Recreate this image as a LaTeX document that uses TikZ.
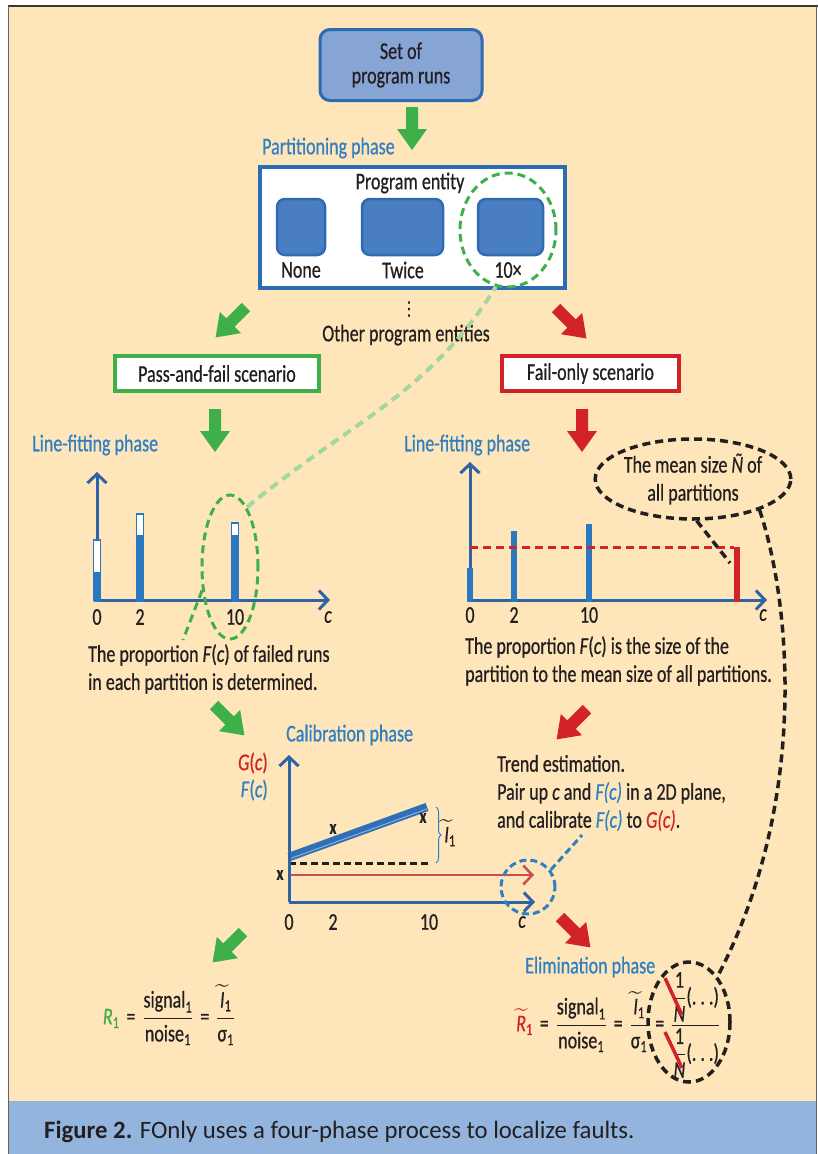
\documentclass[tikz,border=0pt]{standalone}
\usepackage{amsmath}
\usepackage{fontspec}
\setmainfont{Carlito}[FakeStretch=0.75,FakeBold=0.6]
\newfontfamily\capfont{Carlito}[FakeStretch=0.99]
\newfontfamily\dejavu{DejaVu Sans}
\usetikzlibrary{arrows.meta,decorations.pathreplacing,shapes.geometric}
\definecolor{cream}{HTML}{FEE5BA}
\definecolor{capblue}{HTML}{93B5DD}
\definecolor{tblue}{HTML}{2F80C3}
\definecolor{axblue}{HTML}{2E63A6}
\definecolor{barblue}{HTML}{2A78C0}
\definecolor{boxfill}{HTML}{4A7EC2}
\definecolor{boxedge}{HTML}{2D6BB3}
\definecolor{topfill}{HTML}{86A4D4}
\definecolor{pfgreen}{HTML}{3FAF4A}
\definecolor{lgreen}{HTML}{A3D6A0}
\definecolor{fored}{HTML}{D2232A}
\definecolor{calred}{HTML}{C8504E}
\definecolor{ink}{HTML}{231F20}
\definecolor{calblue}{HTML}{2F6FB8}
\begin{document}
\begin{tikzpicture}[x=1pt,y=-1pt,
  txt/.style={font=\fontsize{24}{28}\selectfont, text=ink, inner sep=0pt},
  bluetxt/.style={txt, text=tblue},
  axisline/.style={draw=axblue, line width=3pt, -{Straight Barb[length=9pt,width=19pt]}},
  smallbox/.style={draw=boxedge, line width=2.5pt, fill=boxfill, rounded corners=8pt, minimum height=56, inner sep=0pt},
  scenbox/.style={txt, line width=3.5pt, fill=white, minimum width=#1, minimum height=35},
  dashgreen/.style={draw=pfgreen, line width=3pt, dash pattern=on 8pt off 5pt},
  dashblack/.style={draw=ink, line width=3.5pt, dash pattern=on 8pt off 5pt},
  xmark/.style={txt, font=\fontsize{20}{20}\selectfont\bfseries},
  fatarrow/.pic={\fill[#1] (-6,0) -- (6,0) -- (6,22) -- (15,22) -- (0,43) -- (-15,22) -- (-6,22) -- cycle;}
]
% frame
\useasboundingbox (0,0) rectangle (818,1154);
\fill[white] (0,0) rectangle (818,1154);
\fill[cream] (8,6) rectangle (817,1101);
\fill[capblue] (8,1101) rectangle (817,1154);
\draw[line width=2.5pt, draw=ink!90] (8,6) -- (818,6);
\draw[line width=1.5pt, draw=ink!70] (8.7,6) -- (8.7,1154);
\draw[line width=1.2pt, draw=ink!70] (816.8,6) -- (816.8,1154);
\node[font=\capfont\fontsize{25}{28}\selectfont, text=ink, inner sep=0pt, anchor=west] (cap) at (44,1132) {\textbf{Figure 2.} FOnly uses a four-phase process to localize faults.};

% top box
\node[txt, font=\fontsize{24}{24.5}\selectfont, draw=boxedge, line width=3pt, fill=topfill, rounded corners=10pt, minimum width=162, minimum height=71, align=center] (runs) at (401,65) {Set of\\program runs};
\pic at (412,107) {fatarrow=pfgreen};
\node[bluetxt, anchor=west] (pphase) at (262,148) {Partitioning phase};

% partition box
\node[draw=boxedge, line width=3.5pt, fill=white, minimum width=305, minimum height=121] (part) at (412.5,227.5) {};
\node[txt] (pent) at (410,183) {Program entity};
\node[smallbox, minimum width=48] (bnone) at (301,227) {};
\node[smallbox, minimum width=81] (btwice) at (402.5,227) {};
\node[smallbox, minimum width=65] (bten) at (510.5,227) {};
\node[txt] (lnone) at (301,270) {None};
\node[txt] (ltwice) at (403,270) {Twice};
\node[txt] (lten) at (508,270) {10×};
\node[ellipse, dashgreen, minimum width=96, minimum height=114, inner sep=0pt] (c10) at (508,230) {};
\node[txt, font=\dejavu\fontsize{19}{19}\selectfont] (dots) at (409,310) {⋮};
\node[txt] (other) at (406,335) {Other program entities};

% scenario arrows and boxes
\pic[rotate=-45] at (246,307) {fatarrow=pfgreen};
\pic[rotate=45] at (556,308) {fatarrow=fored};
\node[scenbox=204, draw=pfgreen] (pf) at (217,373.5) {Pass-and-fail scenario};
\node[scenbox=177, draw=fored] (fo) at (590.5,373.5) {Fail-only scenario};
\pic at (215,409) {fatarrow=pfgreen};
\pic at (582,409) {fatarrow=fored};

% left line fitting chart
\node[bluetxt, anchor=west] (lf1) at (32,445) {Line-fitting phase};
\draw[axisline] (97,600) -- (97,472);
\draw[axisline] (97,600) -- (330,600);
\filldraw[draw=barblue, fill=white, line width=1.5pt] (93.5,540) rectangle (100.5,600);
\fill[barblue] (93.5,572) rectangle (100.5,601.5);
\filldraw[draw=barblue, fill=white, line width=1.5pt] (136.5,514) rectangle (143.5,600);
\fill[barblue] (136.5,535) rectangle (143.5,601.5);
\filldraw[draw=barblue, fill=white, line width=1.5pt] (231.5,523) rectangle (238.5,600);
\fill[barblue] (231.5,535) rectangle (238.5,601.5);
\node[txt] (l0) at (97,617) {0};
\node[txt] (l2) at (140,617) {2};
\node[txt] (l10) at (235,617) {10};
\node[txt] (lc) at (328,617) {\textit{c}};
\node[ellipse, dashgreen, minimum width=56, minimum height=144, inner sep=0pt] (e10) at (230,567) {};
\coordinate (pfend) at (183,640);
\draw[dashgreen] (e10.220) -- (pfend);
\draw[draw=lgreen, line width=4pt, dash pattern=on 9pt off 6pt] (e10.74) to[out=40, in=238] (c10.258);
\node[txt, anchor=west, align=left] (pftext) at (88,669) {The proportion \textit{F}(\textit{c}) of failed runs\\in each partition is determined.};

% right line fitting chart
\node[bluetxt, anchor=west] (lf2) at (404,445) {Line-fitting phase};
\draw[axisline] (470,600) -- (470,462);
\draw[axisline] (470,600) -- (767,600);
\fill[barblue] (467,568) rectangle (473,601.5);
\fill[barblue] (511,531) rectangle (517,601.5);
\fill[barblue] (586,524) rectangle (592,601.5);
\fill[fored] (734,547) rectangle (740,601.5);
\draw[draw=fored, line width=3pt, dash pattern=on 8pt off 5pt] (470,547) -- (734,547);
\node[txt] (r0) at (470,615) {0};
\node[txt] (r2) at (514,615) {2};
\node[txt] (r10) at (589,615) {10};
\node[txt] (rc) at (763,615) {\textit{c}};
\node[txt, anchor=west, align=left] (fotext) at (465,661) {The proportion \textit{F}(\textit{c}) is the size of the\\partition to the mean size of all partitions.};
\node[txt, ellipse, dashblack, minimum width=178, minimum height=80, align=center] (mean) at (693,479) {The mean size \textit{\~N} of\\all partitions};
\coordinate (meanend) at (730,563);
\draw[dashblack] (mean.275) -- (meanend);

% calibration
\pic[rotate=45] at (214,705) {fatarrow=pfgreen};
\pic[rotate=-45] at (587,709) {fatarrow=fored};
\node[bluetxt, anchor=west] (cphase) at (286,735) {Calibration phase};
\node[txt, text=fored, anchor=east] (gc) at (268,763) {\textit{G}(\textit{c})};
\node[txt, text=tblue, anchor=east] (fc) at (268,790) {\textit{F}(\textit{c})};
\draw[draw=ink, line width=3pt, dash pattern=on 7pt off 4pt] (289,863) -- (430,863);
\draw[line width=8.5pt, calblue] (289,857) -- (427,807);
\draw[line width=1pt, calblue!55!white] (289,859) -- (427,809);
\draw[draw=calred, line width=2.5pt, -{Straight Barb[length=9pt,width=19pt]}] (289,875) -- (534,875);
\draw[axisline] (289,902) -- (289,755);
\draw[axisline] (289,902) -- (535,902);
\node[xmark] (x1) at (333,829) {x};
\node[xmark] (x2) at (423,818) {x};
\node[xmark] (x3) at (280,875) {x};
\draw[draw=tblue, line width=1pt, decorate, decoration={brace, amplitude=5pt}] (436,807) -- (436,863);
\node[txt] (itil) at (450,833) {$\widetilde{\text{\textit{I}}}_{\text{1}}$};
\node[txt] (c0) at (289,922) {0};
\node[txt] (c2) at (333,922) {2};
\node[txt] (c10l) at (429,922) {10};
\node[txt] (cc) at (522,922) {\textit{c}};
\node[circle, draw=tblue, line width=3pt, dash pattern=on 7pt off 4pt, minimum size=54, inner sep=0pt] (bc) at (528,887) {};
\coordinate (bcend) at (582,835);
\draw[draw=tblue, line width=3pt, dash pattern=on 7pt off 4pt] (bc.37) -- (bcend);
\node[txt, anchor=west, align=left] (trend) at (497,793) {Trend estimation.\\Pair up \textit{c} and \textcolor{tblue}{\textit{F(c)}} in a 2D plane,\\and calibrate \textcolor{tblue}{\textit{F(c)}} to \textcolor{fored}{\textit{G(c)}}.};

% elimination
\pic[rotate=-45] at (243,932) {fatarrow=pfgreen};
\pic[rotate=45] at (560,917) {fatarrow=fored};
\node[txt] (r1) at (169,1015) {$\textcolor{pfgreen}{\text{\textit{R}}_{\text{1}}}\mathrel{\text{=}}\dfrac{\text{signal}_{\text{1}}}{\text{noise}_{\text{1}}}\mathrel{\text{=}}\dfrac{\widetilde{\text{\textit{I}}}_{\text{1}}}{\text{σ}_{\text{1}}}$};
\node[bluetxt, anchor=west] (ephase) at (525,967) {Elimination phase};
\node[txt, anchor=west] (rt1) at (516,1025) {$\textcolor{fored}{\widetilde{\text{\textit{R}}}_{\text{1}}}\mathrel{\text{=}}\dfrac{\text{signal}_{\text{1}}}{\text{noise}_{\text{1}}}\mathrel{\text{=}}\dfrac{\widetilde{\text{\textit{I}}}_{\text{1}}}{\text{σ}_{\text{1}}}\mathrel{\text{=}}\dfrac{\dfrac{\text{1}}{\text{\textit{N}}}\text{(.\,.\,.)}}{\dfrac{\text{1}}{\text{\textit{N}}}\text{(.\,.\,.)}}$};
\draw[draw=fored, line width=3.5pt] (665,978) -- (682,1015);
\draw[draw=fored, line width=3.5pt] (665,1032) -- (682,1068);
\node[ellipse, dashblack, minimum width=82, minimum height=120, inner sep=0pt] (elim) at (689,1022) {};
\draw[dashblack] (mean.-25) .. controls (790,600) and (810,800) .. (elim.58);
\end{tikzpicture}
\end{document}
